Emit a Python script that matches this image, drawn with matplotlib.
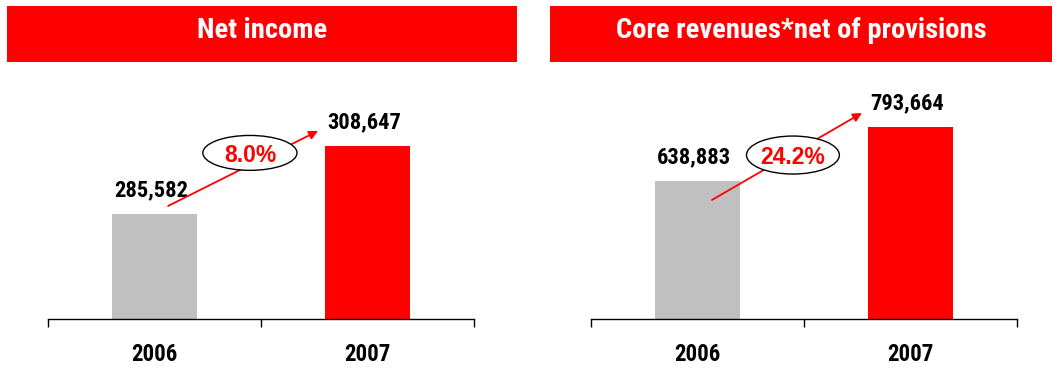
import matplotlib
matplotlib.use("Agg")
import matplotlib.pyplot as plt
from matplotlib.patches import Rectangle, Ellipse

# ---- data ----
years = ["2006", "2007"]
net_income = [285582, 308647]
core_revenues = [638883, 793664]
panel_titles = ["Net income", "Core revenues*net of provisions"]
growth_labels = ["8.0%", "24.2%"]

RED = "#FF0000"
GREY = "#C0C0C0"
NARROW = ["Roboto Condensed", "Liberation Sans", "DejaVu Sans"]
WIDE = ["Liberation Sans", "DejaVu Sans"]

W, H = 1057, 368
fig = plt.figure(figsize=(W / 100, H / 100), dpi=100)
fig.patch.set_facecolor("white")


def px_box(x0, y0, x1, y1):
    # pixel box (top-left origin) -> figure fraction rect
    return [x0 / W, 1 - y1 / H, (x1 - x0) / W, (y1 - y0) / H]


def panel(ax_px, hdr_px, title, values, ylim, growth, arrow_pts, ell):
    # header strip
    hx0, hy0, hx1, hy1 = hdr_px
    fig.patches.append(Rectangle((hx0 / W, 1 - hy1 / H), (hx1 - hx0) / W,
                                 (hy1 - hy0) / H, transform=fig.transFigure,
                                 facecolor=RED, edgecolor="none"))
    fig.text((hx0 + hx1) / 2 / W, 1 - 37.5 / H, title, color="white",
             fontsize=20.5, fontweight="bold", family=NARROW,
             ha="center", va="baseline")

    ax = fig.add_axes(px_box(*ax_px))
    ax.bar([0, 1], values, width=0.4, color=[GREY, RED], zorder=2)
    ax.set_xlim(-0.5, 1.5)
    ax.set_ylim(*ylim)
    for s in ("top", "left", "right"):
        ax.spines[s].set_visible(False)
    ax.spines["bottom"].set_linewidth(1.0)
    ax.set_yticks([])
    ax.set_xticks([-0.5, 0.5, 1.5])
    ax.set_xticklabels([])
    ax.tick_params(axis="x", direction="out", length=5.8, width=1.0)

    for i, (yr, v) in enumerate(zip(years, values)):
        ax.annotate(f"{v:,}", (i, v), xytext=(-2.5, 12.5),
                    textcoords="offset points", ha="center", va="baseline",
                    fontsize=16.2, fontweight="bold", family=NARROW, color="black")
        ax.text(i, -0.15, yr, transform=ax.get_xaxis_transform(),
                ha="center", va="center", fontsize=16.5, fontweight="bold",
                family=NARROW, color="black")

    (sx, sy), (ex, ey) = arrow_pts
    ax.annotate("", xy=(ex, ey), xytext=(sx, sy), xycoords="axes fraction",
                textcoords="axes fraction",
                arrowprops=dict(arrowstyle="-|>", color=RED, lw=1.3,
                                mutation_scale=13, shrinkA=0, shrinkB=0),
                zorder=3)
    cx, cy, ew, eh = ell
    ax.add_patch(Ellipse((cx, cy), ew, eh, transform=ax.transAxes,
                         facecolor="white", edgecolor="black", lw=1.0,
                         zorder=4, clip_on=False))
    ax.text(cx, cy - 0.01, growth, transform=ax.transAxes, ha="center",
            va="center", fontsize=16.5, fontweight="bold", family=WIDE,
            color=RED, zorder=5)
    return ax


panel((48, 80, 474, 319), (7, 6, 517, 62), panel_titles[0], net_income,
      (250000, 331000), growth_labels[0],
      ((0.282, 0.473), (0.634, 0.787)), (0.474, 0.695, 0.221, 0.146))
panel((591, 80, 1017, 319), (550, 6, 1052, 62), panel_titles[1], core_revenues,
      (242000, 927000), growth_labels[1],
      ((0.284, 0.498), (0.636, 0.862)), (0.474, 0.686, 0.218, 0.159))

fig.savefig("out.png", dpi=100, facecolor="white")
